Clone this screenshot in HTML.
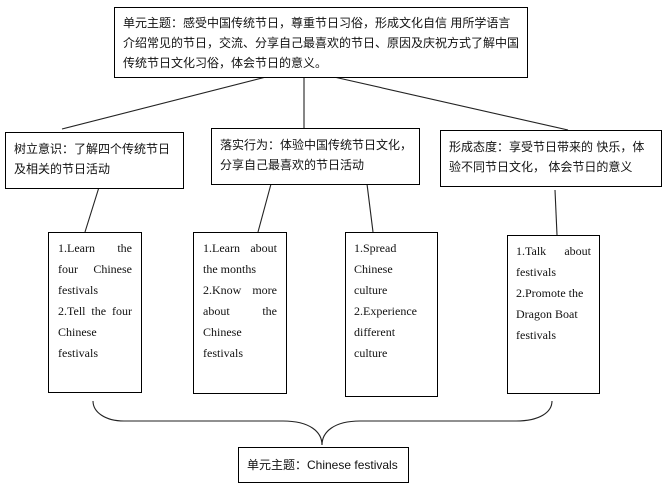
<!DOCTYPE html>
<html><head><meta charset="utf-8"><style>
body{margin:0;background:#fff;width:669px;height:491px;position:relative;overflow:hidden}
.b{position:absolute;border:1.3px solid #000;box-sizing:border-box;background:#fff}
.cn{font-family:"Liberation Sans","Noto Sans CJK SC",sans-serif;font-size:12px;line-height:20px;color:#111;white-space:nowrap}
.en{font-family:"Liberation Serif",serif;font-size:12px;line-height:21px;color:#111;text-align:justify}
svg{position:absolute;left:0;top:0}
</style></head><body>
<svg width="669" height="491"><g stroke="#222" stroke-width="1.1" fill="none">
<line x1="266" y1="77" x2="62" y2="129"/>
<line x1="304" y1="77" x2="304" y2="128"/>
<line x1="334" y1="77" x2="568" y2="130"/>
<line x1="100" y1="184" x2="85" y2="232"/>
<line x1="271" y1="184" x2="258" y2="232"/>
<line x1="367" y1="184" x2="373" y2="232"/>
<line x1="555" y1="190" x2="557" y2="235"/>
<path d="M93,401 C93,412 105,421 124,421 L283,421 C310,421 322,432 322,445"/>
<path d="M552,401 C552,412 540,421 516,421 L360,421 C334,421 322,432 322,445"/>
</g></svg>
<div class="b cn" style="left:114px;top:7px;width:414px;height:71px;padding:5px 8px">单元主题：感受中国传统节日，尊重节日习俗，形成文化自信 用所学语言<br>介绍常见的节日，交流、分享自己最喜欢的节日、原因及庆祝方式了解中国<br>传统节日文化习俗，体会节日的意义。</div>
<div class="b cn" style="left:5px;top:132px;width:179px;height:57px;padding:6px 8px">树立意识：了解四个传统节日<br>及相关的节日活动</div>
<div class="b cn" style="left:211px;top:128px;width:209px;height:57px;padding:6px 8px">落实行为：体验中国传统节日文化，<br>分享自己最喜欢的节日活动</div>
<div class="b cn" style="left:440px;top:130px;width:222px;height:57px;padding:6px 8px">形成态度：享受节日带来的 快乐，体<br>验不同节日文化， 体会节日的意义</div>
<div class="b en" style="left:48px;top:232px;width:94px;height:161px;padding:5px 9px">1.Learn the four Chinese festivals<br>2.Tell the four Chinese festivals</div>
<div class="b en" style="left:193px;top:232px;width:94px;height:162px;padding:5px 9px">1.Learn about the months<br>2.Know more about the Chinese festivals</div>
<div class="b en" style="left:345px;top:232px;width:93px;height:165px;padding:5px 8px;text-align:left">1.Spread<br>Chinese<br>culture<br>2.Experience<br>different<br>culture</div>
<div class="b en" style="left:507px;top:235px;width:93px;height:159px;padding:5px 8px">1.Talk about festivals<br><span style="display:block;text-align:left">2.Promote the Dragon Boat festivals</span></div>
<div class="b cn" style="left:238px;top:447px;width:171px;height:36px;padding:7px 8px">单元主题：Chinese festivals</div>
</body></html>
